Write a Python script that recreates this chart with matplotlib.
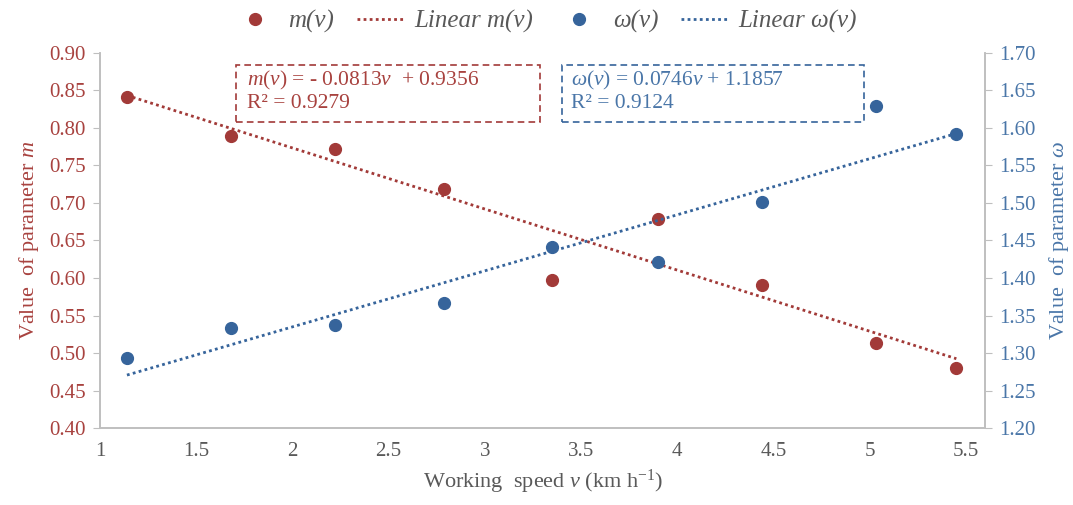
import matplotlib
matplotlib.use("Agg")
import matplotlib.pyplot as plt
from matplotlib.lines import Line2D
from matplotlib.patches import Rectangle
import numpy as np

plt.rcParams["font.family"] = ["Liberation Serif", "DejaVu Serif"]
plt.rcParams["mathtext.fontset"] = "custom"
plt.rcParams["mathtext.rm"] = "Liberation Serif"
plt.rcParams["mathtext.it"] = "Liberation Serif:italic"

# working speed v (km/h)
speed = [1.14, 1.68, 2.22, 2.79, 3.35, 3.90, 4.44, 5.03, 5.45]
# parameter m (left axis)
m_vals = [0.841, 0.789, 0.772, 0.718, 0.597, 0.679, 0.591, 0.513, 0.480]
# parameter omega (right axis)
w_vals = [1.293, 1.334, 1.337, 1.367, 1.441, 1.421, 1.501, 1.629, 1.591]
# linear fits as printed on the chart
m_fit = (-0.0813, 0.9356)
w_fit = (0.0746, 1.1857)

RED = "#A23A38"
BLUE = "#36649B"
RED_TXT = "#A8423F"
BLUE_TXT = "#4A76A8"
GRAY = "#595959"
SPINE = "#BFBFBF"
DOTS = (0, (1, 1.2))

fig = plt.figure(figsize=(10.73, 5.05), dpi=100)
ax = fig.add_axes([0.0932, 0.152, 0.825, 0.744])
ax2 = ax.twinx()

vx = np.array([speed[0], speed[-1]])
ax.plot(vx, m_fit[0] * vx + m_fit[1], color=RED, lw=2.0, ls=DOTS, zorder=2)
ax.plot(speed, m_vals, "o", color=RED, ms=8.5, zorder=3)
ax2.plot(vx, w_fit[0] * vx + w_fit[1], color=BLUE, lw=2.0, ls=DOTS, zorder=2)
ax2.plot(speed, w_vals, "o", color=BLUE, ms=8.5, zorder=3)

ax.set_xlim(1, 5.6)
ax.set_ylim(0.40, 0.90)
ax2.set_ylim(1.20, 1.70)
ax.set_xticks(np.arange(1, 5.51, 0.5))
ax.set_xticklabels(["1", "1.5", "2", "2.5", "3", "3.5", "4", "4.5", "5", "5.5"])
ax.set_yticks(np.arange(0.40, 0.901, 0.05))
ax.set_yticklabels([f"{t:.2f}" for t in np.arange(0.40, 0.901, 0.05)])
ax2.set_yticks(np.arange(1.20, 1.701, 0.05))
ax2.set_yticklabels([f"{t:.2f}" for t in np.arange(1.20, 1.701, 0.05)])

for a in (ax, ax2):
    a.spines["top"].set_visible(False)
    for s in ("left", "right", "bottom"):
        a.spines[s].set_color(SPINE)
        a.spines[s].set_linewidth(1.2)
ax.tick_params(axis="x", length=0, labelsize=15, labelcolor=GRAY, pad=10)
ax.tick_params(axis="y", length=5, color=SPINE, labelsize=15, labelcolor=RED_TXT, pad=5)
ax2.tick_params(axis="y", length=5, color=SPINE, labelsize=15, labelcolor=BLUE_TXT, pad=5)

ax.set_ylabel("Value  of parameter $m$", color=RED_TXT, fontsize=16, labelpad=6)
ax2.set_ylabel("Value  of parameter $\\omega$", color=BLUE_TXT, fontsize=16, labelpad=8)
ax.set_xlabel("Working  speed $v$ (km h$^{-1}$)", color=GRAY, fontsize=16, labelpad=5)

# equation boxes
ax.add_patch(Rectangle((0.1537, 0.8146), 0.343, 0.151, transform=ax.transAxes,
                       fill=False, ec=RED, lw=1.2, ls=(0, (4, 2.5)), zorder=4))
ax.text(0.166, 0.926, "$m(v)$ = - 0.0813$v$  + 0.9356", transform=ax.transAxes,
        color=RED_TXT, fontsize=15.5, va="center", zorder=5)
ax.text(0.166, 0.864, "R² = 0.9279", transform=ax.transAxes,
        color=RED_TXT, fontsize=15.5, va="center", zorder=5)
ax.add_patch(Rectangle((0.522, 0.8146), 0.341, 0.151, transform=ax.transAxes,
                       fill=False, ec=BLUE, lw=1.2, ls=(0, (4, 2.5)), zorder=4))
ax.text(0.532, 0.926, "$\\omega(v)$ = 0.0746$v$ + 1.1857", transform=ax.transAxes,
        color=BLUE_TXT, fontsize=15.5, va="center", zorder=5)
ax.text(0.532, 0.864, "R² = 0.9124", transform=ax.transAxes,
        color=BLUE_TXT, fontsize=15.5, va="center", zorder=5)

handles = [
    Line2D([], [], ls="none", marker="o", color=RED, ms=8.5),
    Line2D([], [], color=RED, lw=2.0, ls=DOTS),
    Line2D([], [], ls="none", marker="o", color=BLUE, ms=8.5),
    Line2D([], [], color=BLUE, lw=2.0, ls=DOTS),
]
labels = ["m(v)", "Linear m(v)", "ω(v)", "Linear ω(v)"]
leg = fig.legend(handles, labels, loc="upper center", bbox_to_anchor=(0.507, 1.025),
                 ncol=4, frameon=False, prop={"size": 18, "style": "italic"},
                 handlelength=1.9, columnspacing=0.9, handletextpad=0.4)
for t in leg.get_texts():
    t.set_color(GRAY)

fig.savefig("out.png", dpi=100)
